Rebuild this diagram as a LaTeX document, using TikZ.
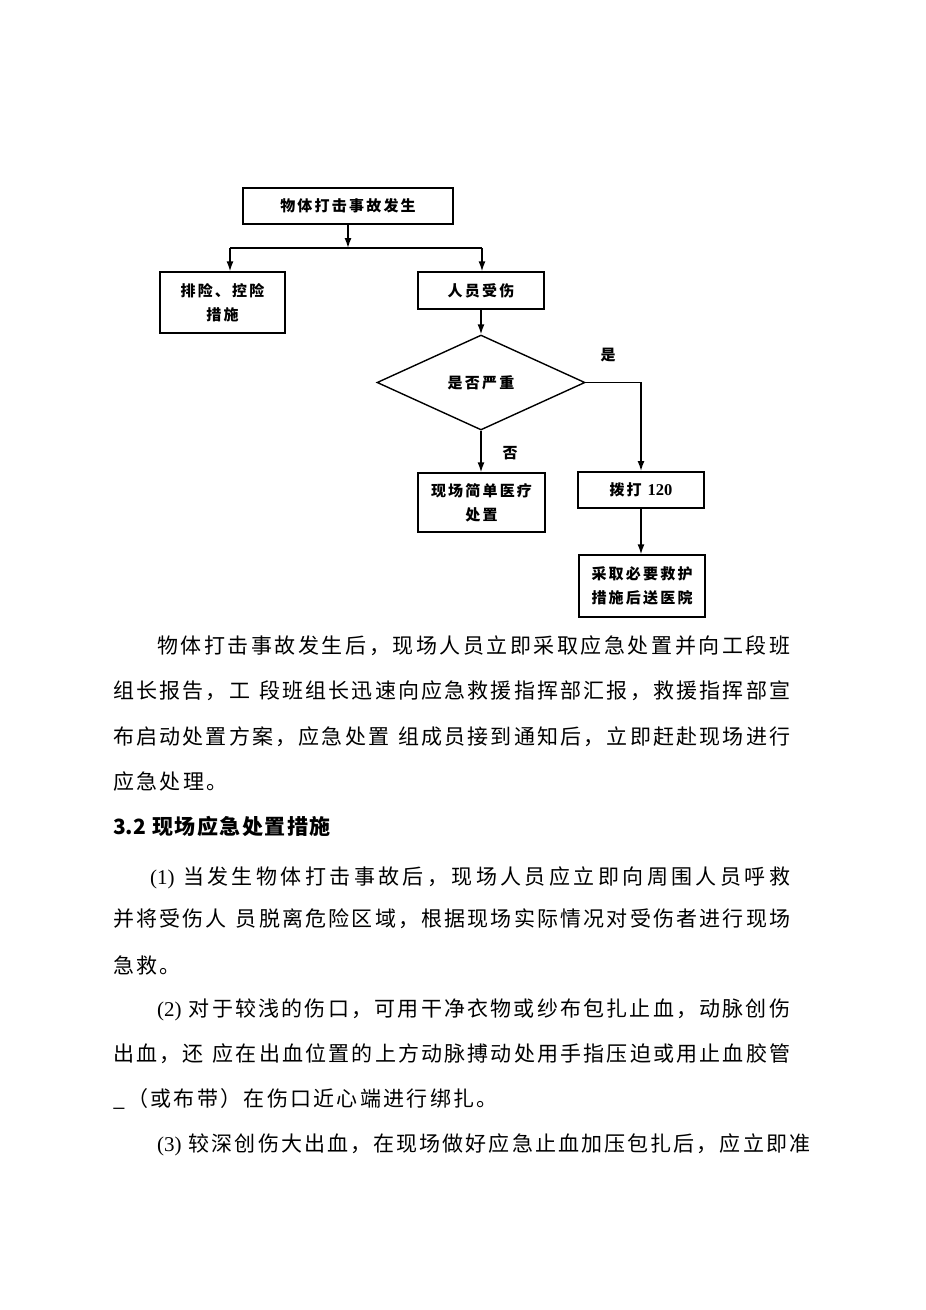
\documentclass[tikz,border=0pt]{standalone}
\usepackage{fontspec}
\setmainfont{Noto Sans CJK SC}
\newfontfamily\latfont{Liberation Serif}
\usetikzlibrary{shapes.geometric,arrows.meta}
\newdimen\cjkgap
\cjkgap=3pt
\def\jlA#1{#1\jlB}
\def\jlB#1{\ifx\relax#1\else\hfil#1\expandafter\jlB\fi}
\def\ksA#1{#1\ksB}
\def\ksB#1{\ifx\relax#1\else\kern\cjkgap#1\expandafter\ksB\fi}
\newcommand\jline[2]{\makebox[#1][s]{\jlA#2\relax}}
\newcommand\jlinep[3]{\makebox[#1][s]{{\latfont #2}\hspace{5pt}\hfil\jlA#3\relax}}
\newcommand\spc[1]{\ksA#1\relax}
\newcommand\boxfont{\fontsize{15pt}{24pt}\selectfont\bfseries\cjkgap=2.2pt\relax}
\newcommand\bodyfont{\fontsize{21pt}{26pt}\selectfont\cjkgap=2.3pt\relax}
\newcommand\headfont{\fontsize{21pt}{26pt}\selectfont\bfseries\cjkgap=1.5pt\relax}
\tikzset{
  box/.style={draw, line width=1.4pt, inner sep=0pt, font=\boxfont, align=center},
  conn/.style={line width=1.4pt, -{Latex[length=10pt,width=7pt]}},
  plain/.style={line width=1.4pt},
  lab/.style={font=\boxfont, inner sep=0pt},
  body/.style={anchor=base west, inner sep=0pt, font=\bodyfont},
  head/.style={anchor=base west, inner sep=0pt, font=\headfont}
}
\begin{document}
\begin{tikzpicture}[x=1pt,y=-1pt]
\useasboundingbox (0,0) rectangle (926,1310);
% flowchart
\node[box, minimum width=210pt, minimum height=36pt] (top) at (348,206) {\spc{物体打击事故发生}};
\node[box, minimum width=125pt, minimum height=61pt] (b2) at (222.5,302.5) {\spc{排险、控险}\\\spc{措施}};
\node[box, minimum width=126pt, minimum height=37pt] (b3) at (481,290.5) {\spc{人员受伤}};
\node[draw, diamond, line width=1.4pt, inner sep=0pt, minimum width=208pt, minimum height=95pt, aspect=2.19, font=\boxfont] (dia) at (481,382.5) {\spc{是否严重}};
\node[box, minimum width=127pt, minimum height=59pt] (b4) at (481.5,502.5) {\spc{现场简单医疗}\\\spc{处置}};
\node[box, line width=2pt, minimum width=126pt, minimum height=36pt] (call) at (641,490) {\spc{拨打}\hspace{6pt}{\latfont\bfseries\fontsize{16.5pt}{20pt}\selectfont 120}};
\node[box, minimum width=126pt, minimum height=62pt] (b6) at (642,586) {\spc{采取必要救护}\\\spc{措施后送医院}};
\node[lab] (yes) at (608,355) {是};
\node[lab] (no) at (510,453) {否};
\coordinate (split) at (348,248);
\coordinate (sl) at (230,248);
\coordinate (sr) at (482,248);
\draw[conn] (top.south) -- (split);
\draw[plain] (sl) -- (sr);
\draw[conn] (sl) -- (sl |- b2.north);
\draw[conn] (sr) -- (sr |- b3.north);
\draw[conn] (b3.south) -- (dia.north);
\draw[conn] (dia.south) -- (dia.south |- b4.north);
\draw[conn] (dia.east) -| (call.north);
\draw[conn] (call.south) -- (call.south |- b6.north);
% body text
\node[body] (t1) at (157,653) {\jline{633pt}{物体打击事故发生后，现场人员立即采取应急处置并向工段班}};
\node[body] (t2) at (113,698.5) {\jline{677pt}{组长报告，工~段班组长迅速向应急救援指挥部汇报，救援指挥部宣}};
\node[body] (t3) at (113,744) {\jline{677pt}{布启动处置方案，应急处置~组成员接到通知后，立即赶赴现场进行}};
\node[body] (t4) at (113,789) {\spc{应急处理。}};
\node[head] (h1) at (113,834.5) {3.2\hspace{6pt}\spc{现场应急处置措施}};
\node[body] (t5) at (150,884) {\jlinep{640pt}{(1)}{当发生物体打击事故后，现场人员应立即向周围人员呼救}};
\node[body] (t6) at (113,926) {\jline{677pt}{并将受伤人~员脱离危险区域，根据现场实际情况对受伤者进行现场}};
\node[body] (t7) at (113,973) {\spc{急救。}};
\node[body] (t8) at (157,1016) {\jlinep{633pt}{(2)}{对于较浅的伤口，可用干净衣物或纱布包扎止血，动脉创伤}};
\node[body] (t9) at (113,1061) {\jline{677pt}{出血，还~应在出血位置的上方动脉搏动处用手指压迫或用止血胶管}};
\node[body] (t10) at (113,1106) {\spc{\_（或布带）在伤口近心端进行绑扎。}};
\node[body] (t11) at (157,1151) {\jlinep{653pt}{(3)}{较深创伤大出血，在现场做好应急止血加压包扎后，应立即准}};
\end{tikzpicture}
\end{document}
